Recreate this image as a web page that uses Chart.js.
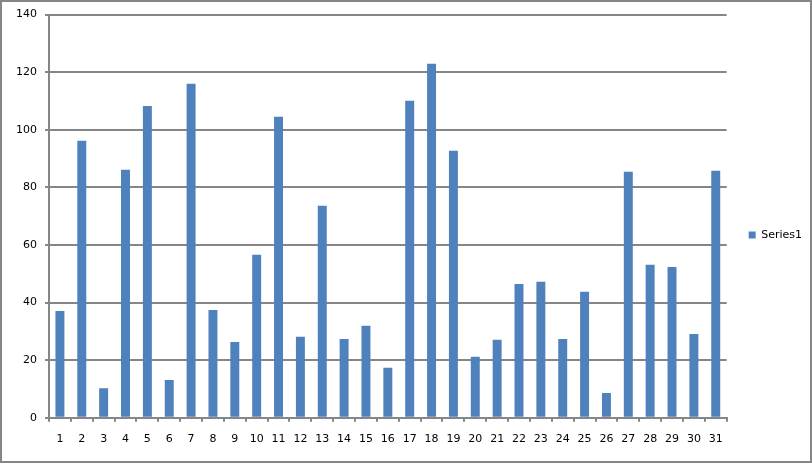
<!DOCTYPE html>
<html lang="en">
<head>
    <meta charset="UTF-8">
    <title>Series1</title>
    <style>
        body {
            margin: 0;
            background-color: white;
        }
        #wrap {
            width: 812px;
            height: 463px;
            position: relative;
        }
    </style>
</head>
<body>
    <div id="wrap">
        <canvas id="barChart" width="812" height="463"></canvas>
    </div>

    <script src="https://cdn.jsdelivr.net/npm/chart.js"></script>
    <script>
        const days = ['1','2','3','4','5','6','7','8','9','10','11','12','13','14','15','16',
                      '17','18','19','20','21','22','23','24','25','26','27','28','29','30','31'];
        const series1 = [37.1, 96.2, 10.3, 86.1, 108.3, 13.1, 116, 37.4, 26.3, 56.6, 104.5, 28.1, 73.6, 27.4, 32,
                         17.4, 110.1, 122.9, 92.7, 21.2, 27.1, 46.5, 47.2, 27.4, 43.8, 8.6, 85.4, 53.1, 52.4, 29.1, 85.8];
        const yTicks = [0, 20, 40, 60, 80, 100, 120, 140];

        const gray = '#868686';
        const labelFont = { family: 'DejaVu Sans', size: 11 };

        // grey frame round the whole picture
        const frame = {
            id: 'frame',
            afterDraw(chart) {
                const ctx = chart.ctx;
                ctx.save();
                ctx.strokeStyle = gray;
                ctx.lineWidth = 2;
                ctx.strokeRect(1, 1, chart.width - 2, chart.height - 2);
                ctx.restore();
            }
        };

        new Chart(document.getElementById('barChart'), {
            type: 'bar',
            data: {
                labels: days,
                datasets: [{
                    label: 'Series1',
                    data: series1,
                    backgroundColor: '#4F81BD',
                    borderWidth: 0,
                    categoryPercentage: 1,
                    barPercentage: 0.41
                }]
            },
            options: {
                responsive: false,
                animation: false,
                layout: {
                    padding: { left: 8, top: 13, right: 0, bottom: 6 }
                },
                plugins: {
                    legend: {
                        position: 'right',
                        labels: {
                            boxWidth: 7,
                            boxHeight: 7,
                            color: '#000',
                            font: labelFont,
                            padding: 22
                        }
                    },
                    tooltip: { enabled: false }
                },
                scales: {
                    x: {
                        grid: {
                            drawOnChartArea: false,
                            color: gray,
                            lineWidth: 2,
                            tickLength: 4
                        },
                        border: { color: gray, width: 2 },
                        ticks: { color: '#000', font: labelFont, padding: 11, maxRotation: 0, autoSkip: false }
                    },
                    y: {
                        min: 0,
                        max: 140,
                        afterBuildTicks(axis) {
                            axis.ticks = yTicks.map(v => ({ value: v }));
                        },
                        grid: {
                            color: gray,
                            lineWidth: 2,
                            tickLength: 4
                        },
                        border: { color: gray, width: 2 },
                        ticks: { color: '#000', font: labelFont, padding: 8 }
                    }
                }
            },
            plugins: [frame]
        });
    </script>
</body>
</html>
